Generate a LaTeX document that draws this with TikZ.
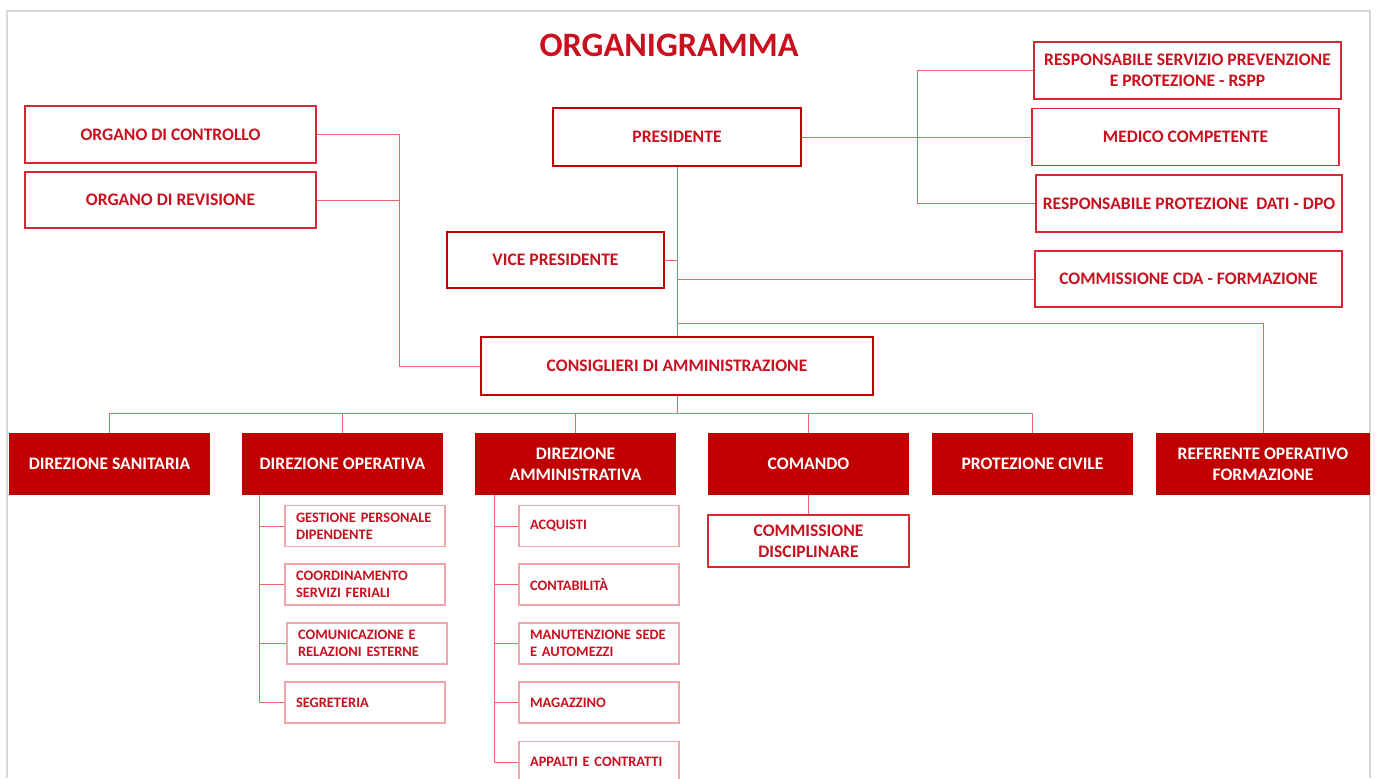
\documentclass[tikz,border=0pt]{standalone}
\usepackage{fontspec}
\setmainfont{Carlito}
\usepackage{tikz}
\definecolor{org_red}{RGB}{192, 0, 0}
\definecolor{org_text}{RGB}{200, 16, 30}
\definecolor{org_border}{RGB}{215, 40, 50}
\definecolor{org_line}{RGB}{232, 100, 110}
\definecolor{org_pale}{RGB}{242, 165, 170}
\definecolor{org_frame}{RGB}{215, 215, 215}
\tikzstyle{ob}=[rectangle,draw=org_border,fill=white,line width=0.8pt,
  text=org_text,font=\bfseries\fontsize{10}{12}\selectfont,align=center,inner sep=2pt]
\tikzstyle{tb}=[ob,draw=org_red,line width=1.6pt]
\tikzstyle{db}=[rectangle,fill=org_red,text=white,
  font=\bfseries\fontsize{10}{12}\selectfont,align=center,inner sep=2pt,
  minimum width=4.02cm,minimum height=1.24cm]
\tikzstyle{sb}=[rectangle,draw=org_pale,fill=white,line width=0.7pt,
  text=org_text,font=\bfseries\fontsize{8.2}{9.8}\selectfont,align=left,
  text width=2.76cm,inner xsep=0.22cm,minimum height=0.82cm]
\tikzstyle{link}=[draw=org_line,line width=0.5pt]

\begin{document}
\begin{tikzpicture}[x=0.02cm,y=-0.02cm]
    \useasboundingbox (0,0) rectangle (1376,778);
    \draw[org_frame,line width=1pt] (7,778) -- (7,11) -- (1370,11) -- (1370,778);
    \node [text=org_text,font=\bfseries\fontsize{19.5}{22}\selectfont] (title) at (669,45) {ORGANIGRAMMA};

    \node [style=ob,minimum width=5.82cm,minimum height=1.14cm] (controllo) at (170.5,134.5) {ORGANO DI CONTROLLO};
    \node [style=ob,minimum width=5.82cm,minimum height=1.12cm] (revisione) at (170.5,200) {ORGANO DI REVISIONE};
    \node [style=tb,minimum width=4.96cm,minimum height=1.16cm] (presidente) at (677,137) {PRESIDENTE};
    \node [style=tb,minimum width=4.34cm,minimum height=1.12cm] (vice) at (555.5,260) {VICE PRESIDENTE};
    \node [style=tb,minimum width=7.84cm,minimum height=1.16cm] (consiglieri) at (677,366) {CONSIGLIERI DI AMMINISTRAZIONE};
    \node [style=ob,minimum width=6.14cm,minimum height=1.14cm] (rspp) at (1187.5,70.5) {RESPONSABILE SERVIZIO PREVENZIONE\\E PROTEZIONE - RSPP};
    \node [style=ob,minimum width=6.14cm,minimum height=1.14cm] (medico) at (1185.5,137) {MEDICO COMPETENTE};
    \node [style=ob,minimum width=6.12cm,minimum height=1.14cm] (dpo) at (1189,203.5) {RESPONSABILE PROTEZIONE\ \ DATI - DPO};
    \node [style=ob,minimum width=6.14cm,minimum height=1.12cm] (cda) at (1188.5,279) {COMMISSIONE CDA - FORMAZIONE};

    \node [style=db] (sanitaria) at (109.5,464) {DIREZIONE SANITARIA};
    \node [style=db] (operativa) at (342.5,464) {DIREZIONE OPERATIVA};
    \node [style=db] (amministrativa) at (575.5,464) {DIREZIONE\\AMMINISTRATIVA};
    \node [style=db] (comando) at (808.5,464) {COMANDO};
    \node [style=db] (protezione) at (1032.5,464) {PROTEZIONE CIVILE};
    \node [style=db,minimum width=4.28cm] (referente) at (1263,464) {REFERENTE OPERATIVO\\FORMAZIONE};
    \node [style=ob,minimum width=4.02cm,minimum height=1.04cm] (disciplinare) at (808.5,541) {COMMISSIONE\\DISCIPLINARE};

    \node [style=sb] (op1) at (365,526) {GESTIONE PERSONALE\\DIPENDENTE};
    \node [style=sb] (op2) at (365,584.5) {COORDINAMENTO\\SERVIZI FERIALI};
    \node [style=sb] (op3) at (367,643.5) {COMUNICAZIONE E\\RELAZIONI ESTERNE};
    \node [style=sb] (op4) at (365,702.5) {SEGRETERIA};
    \node [style=sb] (am1) at (599,526) {ACQUISTI};
    \node [style=sb] (am2) at (599,584.5) {CONTABILITÀ};
    \node [style=sb] (am3) at (599,643.5) {MANUTENZIONE SEDE\\E AUTOMEZZI};
    \node [style=sb] (am4) at (599,702.5) {MAGAZZINO};
    \node [style=sb] (am5) at (599,762) {APPALTI E CONTRATTI};

    \coordinate (lj) at (399,366);
    \coordinate (rj) at (917,137);
    \coordinate (rf) at (677,323);
    \coordinate (bus) at (677,413);
    \coordinate (opv) at (259,495);
    \coordinate (amv) at (494,495);

    \draw[link] (controllo) -| (lj) -- (consiglieri);
    \draw[link] (revisione) -- (revisione -| lj);
    \draw[link] (presidente) -- (consiglieri);
    \draw[link] (presidente) -- (medico);
    \draw[link] (rspp) -| (rj) |- (dpo);
    \draw[link] (vice) -- (vice -| presidente);
    \draw[link] (cda) -- (cda -| presidente);
    \draw[link] (rf) -| (referente);
    \draw[link] (consiglieri) -- (bus);
    \foreach \d in {sanitaria,operativa,amministrativa,comando,protezione}
        \draw[link] (bus) -| (\d);
    \draw[link] (comando) -- (disciplinare);
    \foreach \s in {op1,op2,op3,op4}
        \draw[link] (opv) |- (\s);
    \foreach \s in {am1,am2,am3,am4,am5}
        \draw[link] (amv) |- (\s);
\end{tikzpicture}
\end{document}
